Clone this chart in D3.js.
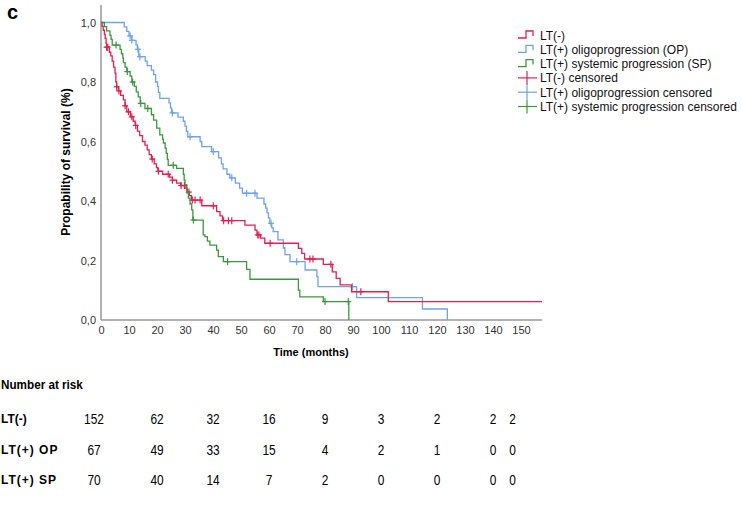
<!DOCTYPE html>
<html>
<head>
<meta charset="utf-8">
<script src="https://cdn.jsdelivr.net/npm/d3@7"></script>
<style>
  body { margin: 0; background: #fff; }
  text { font-family: "Liberation Sans", Arial, sans-serif; }
</style>
</head>
<body>
<svg id="chart" width="742" height="505"></svg>
<script>
// survival steps: [months, survival after the step]
const ltNeg = [[0,1],[0.4,0.987],[0.8,0.974],[1.2,0.96],[1.5,0.947],[1.8,0.93],[2.0,0.917],[3.0,0.9],[3.5,0.888],
  [4.0,0.87],[4.5,0.85],[5.0,0.83],[5.3,0.8],[5.6,0.784],[6.2,0.77],[7.0,0.755],[8.0,0.74],[8.6,0.72],[9.2,0.70],
  [10.5,0.683],[11.5,0.668],[12.2,0.654],[13.0,0.635],[13.8,0.62],[14.8,0.6],[15.7,0.588],[16.5,0.572],[17.2,0.556],
  [18.0,0.541],[19.0,0.525],[19.8,0.512],[20.3,0.5],[22.0,0.49],[24.5,0.48],[25.5,0.47],[27,0.46],[28.5,0.452],
  [30.0,0.443],[30.8,0.43],[31.5,0.418],[32.3,0.403],[36,0.384],[41.3,0.364],[42.5,0.35],[43.4,0.334],[51.4,0.319],
  [55,0.302],[55.7,0.286],[57,0.275],[58.5,0.258],[70.5,0.241],[71.7,0.224],[72.7,0.205],[79.4,0.187],[82.6,0.162],
  [84,0.14],[85.4,0.118],[89.5,0.095],[102.6,0.062],[157.5,0.062]];
const ltOP = [[0,1],[8.3,0.985],[9.2,0.97],[10,0.955],[11,0.94],[12.5,0.925],[13,0.91],[13.5,0.885],[15.8,0.87],
  [16.5,0.855],[18,0.84],[18.8,0.825],[19.5,0.8],[20.2,0.785],[20.5,0.765],[21,0.745],[24.3,0.73],[24.8,0.713],
  [25.2,0.696],[27.5,0.682],[29.4,0.668],[30,0.652],[30.5,0.634],[31,0.616],[35.4,0.6],[36,0.583],[39.5,0.566],
  [42,0.545],[43,0.525],[43.6,0.508],[45,0.49],[46,0.478],[48,0.46],[49.5,0.443],[50.5,0.426],[55.7,0.41],
  [58.2,0.39],[58.8,0.376],[59.3,0.36],[59.8,0.343],[60.3,0.325],[61,0.31],[61.5,0.297],[63.2,0.269],[65.1,0.242],
  [65.7,0.22],[67.5,0.196],[72.9,0.168],[77.1,0.146],[77.5,0.112],[91.3,0.075],[114.8,0.037],[123.7,0]];
const ltSP = [[0,1],[1.2,0.986],[2,0.972],[3.2,0.957],[3.6,0.943],[4,0.924],[6.8,0.91],[7.3,0.895],[7.8,0.88],
  [8,0.865],[8.6,0.85],[9.2,0.835],[10.4,0.82],[11,0.80],[11.9,0.785],[12.6,0.767],[13.3,0.75],[14,0.728],
  [15.7,0.711],[18,0.69],[18.8,0.672],[19.9,0.645],[21,0.622],[22,0.608],[22.3,0.595],[22.9,0.578],[23.3,0.56],
  [23.7,0.54],[24,0.52],[27,0.51],[29.4,0.49],[29.7,0.47],[30,0.455],[30.6,0.427],[31.2,0.41],[31.8,0.39],
  [32.4,0.37],[32.8,0.336],[36.5,0.286],[37.1,0.28],[38,0.265],[38.9,0.252],[41.3,0.235],[41.9,0.213],[43.7,0.196],
  [52,0.17],[53.2,0.137],[70.5,0.1],[71,0.078],[79.4,0.062],[88.5,0]];

// censored times (months)
const censNeg = [2.0,2.4,5.6,6.4,8.6,9.8,11,12.4,18.3,20.5,24,25.5,28.6,29.8,31.4,32.6,33.6,35.4,40.1,43.8,45.5,
  46.7,56,56.4,60.4,74.6,75.7,82.1,92.8];
const censOP = [10.4,11,13.2,13.9,25.5,31.8,40.1,46.7,52,55,60.7,69.9,89.8];
const censSP = [5.4,9.4,11.3,14.2,16.7,25.8,33,45.2,80,88.3];

const seriesColors = ["#e3204f", "#6fa3e8", "#3c983c"];
const legendLabels = ["LT(-)", "LT(+) oligoprogression (OP)", "LT(+) systemic progression (SP)",
  "LT(-) censored", "LT(+) oligoprogression censored", "LT(+) systemic progression censored"];

const xTicks = [0,10,20,30,40,50,60,70,80,90,100,110,120,130,140,150];
const yTicks = [0,0.2,0.4,0.6,0.8,1.0];

const riskGroups = ["LT(-)", "LT(+) OP", "LT(+) SP"];
const riskTimes = [0,20,40,60,80,100,120,140,147];
const riskNeg = [152,62,32,16,9,3,2,2,2];
const riskOP = [67,49,33,15,4,2,1,0,0];
const riskSP = [70,40,14,7,2,0,0,0,0];

const svg = d3.select("#chart");
const x = d3.scaleLinear().domain([0, 157.5]).range([101, 542]);
const y = d3.scaleLinear().domain([0, 1]).range([320, 22.5]);

// panel letter
svg.append("text").attr("x", 7).attr("y", 19)
  .style("font-size", "20px").style("font-weight", "bold").text("c");

// axes
const xAxis = d3.axisBottom(x).tickValues(xTicks).tickSize(0).tickPadding(6);
const yAxis = d3.axisLeft(y).tickValues(yTicks).tickSize(0).tickPadding(5)
  .tickFormat(d => d3.format(".1f")(d).replace(".", ","));

const gx = svg.append("g").attr("transform", "translate(0,320)").call(xAxis);
const gy = svg.append("g").attr("transform", "translate(101,0)").call(yAxis);
gx.select(".domain").remove();
gy.select(".domain").remove();
[gx, gy].forEach(g => g.selectAll("text").style("font-size", "11px").attr("fill", "#333")
  .style("font-family", "'Liberation Sans', Arial, sans-serif"));

svg.append("line").attr("x1", 101).attr("x2", 101).attr("y1", 5).attr("y2", 320)
  .attr("stroke", "#999").attr("stroke-width", 1.5);
svg.append("line").attr("x1", 101).attr("x2", 542).attr("y1", 320).attr("y2", 320)
  .attr("stroke", "#999").attr("stroke-width", 1.5);

svg.append("text").attr("x", 311).attr("y", 356).attr("text-anchor", "middle")
  .style("font-size", "11px").style("font-weight", "bold").text("Time (months)");
svg.append("text").attr("transform", "translate(70,162) rotate(-90)").attr("text-anchor", "middle")
  .style("font-size", "12px").style("font-weight", "bold").text("Propability of survival (%)");

// curves
const line = d3.line().x(d => x(d[0])).y(d => y(d[1])).curve(d3.curveStepAfter);
const curves = [ltNeg, ltOP, ltSP];
const censors = [censNeg, censOP, censSP];

function survAt(steps, t) {
  let s = 1;
  for (const p of steps) { if (p[0] <= t) s = p[1]; }
  return s;
}

[1, 0, 2].forEach(i => {
  svg.append("path").datum(curves[i]).attr("d", line)
    .attr("fill", "none").attr("stroke", seriesColors[i]).attr("stroke-width", 1.3);
  const g = svg.append("g");
  censors[i].forEach(t => {
    const cx = x(t), cy = y(survAt(curves[i], t));
    g.append("line").attr("x1", cx).attr("x2", cx).attr("y1", cy - 3.5).attr("y2", cy + 3.5)
      .attr("stroke", seriesColors[i]).attr("stroke-width", 1.2);
    g.append("line").attr("x1", cx - 3).attr("x2", cx + 3).attr("y1", cy).attr("y2", cy)
      .attr("stroke", seriesColors[i]).attr("stroke-width", 1.2);
  });
});

// legend
const leg = svg.append("g");
legendLabels.forEach((lab, i) => {
  const ly = 35 + i * 14.3;
  const c = seriesColors[i % 3];
  if (i < 3) {
    leg.append("path").attr("d", `M518,${ly + 3}H526V${ly - 4}H533V${ly + 1}`)
      .attr("fill", "none").attr("stroke", c).attr("stroke-width", 1.3);
  } else {
    leg.append("line").attr("x1", 518).attr("x2", 537).attr("y1", ly).attr("y2", ly)
      .attr("stroke", c).attr("stroke-width", 1.2);
    leg.append("line").attr("x1", 527).attr("x2", 527).attr("y1", ly - 7).attr("y2", ly + 7)
      .attr("stroke", c).attr("stroke-width", 1.2);
  }
  leg.append("text").attr("x", 540).attr("y", ly + 4.5)
    .style("font-size", "12px").attr("fill", "#111").text(lab);
});

// number at risk table (condensed type, as in the figure)
svg.append("text").attr("transform", "translate(1,389) scale(0.9,1)")
  .style("font-size", "13px").style("font-weight", "bold")
  .text("Number at risk");
const riskRows = [riskNeg, riskOP, riskSP];
riskRows.forEach((row, r) => {
  const ry = 423 + r * 30.5;
  svg.append("text").attr("x", 1).attr("y", ry)
    .style("font-size", "12px").style("font-weight", "bold")
    .style("letter-spacing", r === 0 ? "0px" : "1px").text(riskGroups[r]);
  row.forEach((v, i) => {
    const tx = x(riskTimes[i]) - (i === 0 ? 7 : 0);
    svg.append("text").attr("transform", `translate(${tx},${ry + 1}) scale(0.85,1)`)
      .attr("text-anchor", "middle")
      .style("font-size", "14px")
      .text(v);
  });
});
</script>
</body>
</html>
